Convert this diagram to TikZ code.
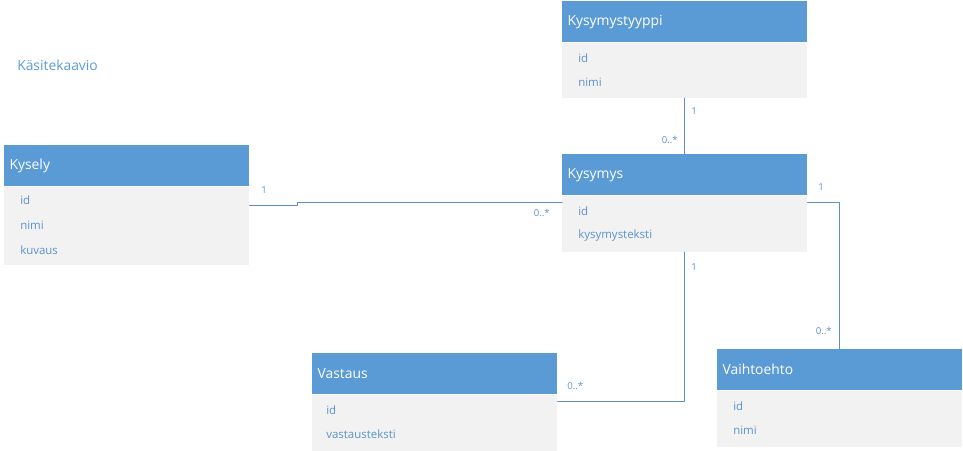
\documentclass[tikz,border=0pt]{standalone}
\usepackage{fontspec}
\setmainfont{Open Sans}
\usetikzlibrary{calc}
\definecolor{hdr}{HTML}{5B9BD5}
\definecolor{bodyc}{HTML}{F2F2F2}
\definecolor{rowc}{HTML}{5A93CF}
\definecolor{linec}{HTML}{5D8FC6}
\tikzset{
	head/.style={fill=hdr,text=white,anchor=north west,minimum width=183.75pt,minimum height=30.75pt,
		inner xsep=4pt,inner ysep=0pt,text width=175.75pt,align=left,font=\fontsize{10.4}{12}\selectfont},
	body/.style={fill=bodyc,anchor=north west,minimum width=183.75pt,inner sep=0pt},
	row/.style={text=rowc,anchor=west,inner sep=0pt,font=\fontsize{8.6}{10}\selectfont},
	card/.style={text=rowc,inner sep=0pt,font=\fontsize{7.2}{8}\selectfont},
	rel/.style={draw=linec,line width=.75pt}
}
% \entity{name}{x}{y}{title}{body height}
\newcommand{\entity}[5]{%
	\node[head] (#1H) at (#2,#3) {#4};
	\node[body,minimum height=#5*0.75pt] (#1B) at (#1H.south west) {};
}
\begin{document}
\begin{tikzpicture}[x=0.75pt,y=-0.75pt,line join=round,line cap=round]
	\useasboundingbox (0,0) rectangle (963,450);
	\node[anchor=west,text=hdr,inner sep=0pt,font=\fontsize{10.4}{12}\selectfont] (title) at (17,65) {Käsitekaavio};
	\entity{tyyppi}{562}{1}{Kysymystyyppi}{55}
	\entity{kysely}{4}{145}{Kysely}{78}
	\entity{kysymys}{562}{154}{Kysymys}{56}
	\entity{vastaus}{312}{353}{Vastaus}{57}
	\entity{vaihto}{717}{349}{Vaihtoehto}{56}
	\foreach \t [count=\i] in {id,nimi}
		\node[row] (tyyppiR\i) at ($(tyyppiB.north west)+(16,{16+24*(\i-1)})$) {\t};
	\foreach \t [count=\i] in {id,nimi,kuvaus}
		\node[row] (kyselyR\i) at ($(kyselyB.north west)+(16,{14+25*(\i-1)})$) {\t};
	\foreach \t [count=\i] in {id,kysymysteksti}
		\node[row] (kysymysR\i) at ($(kysymysB.north west)+(16,{16+24*(\i-1)})$) {\t};
	\foreach \t [count=\i] in {id,vastausteksti}
		\node[row] (vastausR\i) at ($(vastausB.north west)+(14,{16+24*(\i-1)})$) {\t};
	\foreach \t [count=\i] in {id,nimi}
		\node[row] (vaihtoR\i) at ($(vaihtoB.north west)+(16,{16+24*(\i-1)})$) {\t};
	% relations
	\draw[rel] (tyyppiB.south) -- (kysymysH.north);
	\node[card,anchor=west] (c1) at (691,111) {1};
	\node[card,anchor=east] (c2) at (678,140) {0..*};
	\coordinate (k1) at ($(kyselyB.north east)+(0,19)$);
	\draw[rel] (k1) -- ++(48,0) |- ($(kysymysB.north west)+(0,7)$);
	\node[card,anchor=west] (c3) at (261,190) {1};
	\node[card,anchor=east] (c4) at (550,213) {0..*};
	\coordinate (k2) at ($(kysymysB.north east)+(0,7)$);
	\draw[rel] (k2) -| (vaihtoH.north);
	\node[card,anchor=west] (c5) at (818,187) {1};
	\node[card,anchor=east] (c6) at (832,331) {0..*};
	\draw[rel] (kysymysB.south) |- ($(vastausH.south east)+(0,7)$);
	\node[card,anchor=west] (c7) at (691,267) {1};
	\node[card,anchor=west] (c8) at (567,386) {0..*};
\end{tikzpicture}
\end{document}
